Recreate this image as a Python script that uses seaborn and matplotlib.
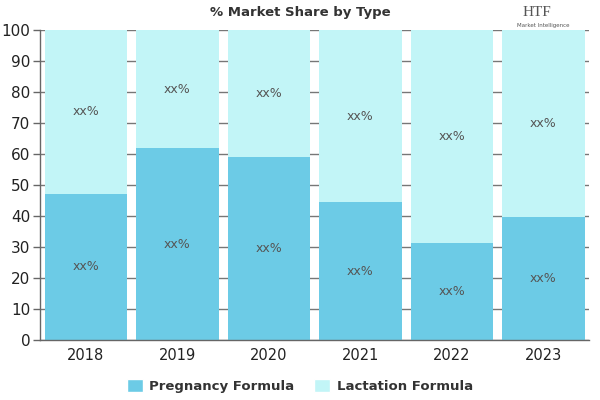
import numpy as np
import pandas as pd
import matplotlib
matplotlib.use("Agg")
import matplotlib.pyplot as plt
import seaborn as sns
from matplotlib.patches import Patch

# ----------------------------------------------------------
# Data
# ----------------------------------------------------------
years = ["2018", "2019", "2020", "2021", "2022", "2023"]
pregnancy = [47.1, 61.9, 59.0, 44.5, 31.3, 39.7]
lactation = [52.9, 38.1, 41.0, 55.5, 68.7, 60.3]
labels = ["xx%"] * len(years)

PREG_COLOR = "#6ccbe6"
LACT_COLOR = "#c2f5f7"

sns.set_theme(style="white")
plt.rcParams["font.family"] = ["DejaVu Sans"]

df = pd.DataFrame({"year": years, "pregnancy": pregnancy, "lactation": lactation})
df["total"] = df["pregnancy"] + df["lactation"]

fig, ax = plt.subplots(figsize=(6, 4), dpi=100)
fig.subplots_adjust(left=0.067, right=0.982, top=0.925, bottom=0.15)

# stacked bars: full height (lactation on top) then pregnancy on the bottom
sns.barplot(data=df, x="year", y="total", color=LACT_COLOR, width=0.9,
            saturation=1, linewidth=0, edgecolor="none", ax=ax, zorder=2)
sns.barplot(data=df, x="year", y="pregnancy", color=PREG_COLOR, width=0.9,
            saturation=1, linewidth=0, edgecolor="none", ax=ax, zorder=2)

# labels in the middle of each segment
for i, (p, l, t) in enumerate(zip(pregnancy, lactation, labels)):
    ax.text(i, p / 2, t, ha="center", va="center", fontsize=9, color="#555555", zorder=3)
    ax.text(i, p + l / 2, t, ha="center", va="center", fontsize=9, color="#555555", zorder=3)

ax.set_ylim(0, 100)
ax.set_xlim(-0.5, len(years) - 0.5)
ax.set_yticks(range(0, 101, 10))
ax.yaxis.grid(True, color="#777777", linewidth=1, zorder=0)
ax.set_axisbelow(True)
ax.set_xlabel("")
ax.set_ylabel("")
ax.tick_params(axis="y", direction="out", length=5, width=1, color="#666666",
               labelsize=11, labelcolor="#222222", pad=2, left=True)
ax.tick_params(axis="x", length=0, labelsize=10.5, labelcolor="#222222", pad=6)

for side in ["top", "right"]:
    ax.spines[side].set_visible(False)
for side in ["left", "bottom"]:
    ax.spines[side].set_color("#666666")
    ax.spines[side].set_linewidth(1)

fig.text(0.5, 0.968, "% Market Share by Type", ha="center", va="center",
         fontsize=9.5, fontweight="bold", color="#333333")

# logo placeholder
fig.text(0.895, 0.968, "HTF", ha="center", va="center", fontsize=11,
         color="#555555", family="Liberation Serif")
fig.text(0.905, 0.937, "Market Intelligence", ha="center", va="center",
         fontsize=4, color="#555555")

handles = [Patch(facecolor=PREG_COLOR, label="Pregnancy Formula"),
           Patch(facecolor=LACT_COLOR, label="Lactation Formula")]
leg = fig.legend(handles=handles, loc="center", bbox_to_anchor=(0.5, 0.035), ncol=2,
                 frameon=False, fontsize=9.5, handlelength=1.2, handleheight=1.2,
                 handletextpad=0.5, columnspacing=1.5)
for txt in leg.get_texts():
    txt.set_fontweight("bold")
    txt.set_color("#333333")

fig.savefig("out.png", dpi=100)
